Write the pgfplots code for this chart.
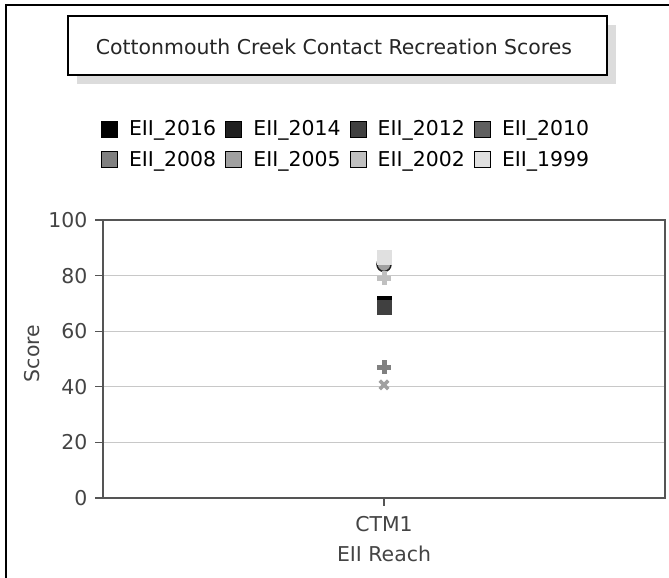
\documentclass[border=0pt]{standalone}
\usepackage{fontspec}
\setmainfont{DejaVu Sans}
\usepackage{pgfplots}
\pgfplotsset{compat=1.18}
\definecolor{c2016}{HTML}{000000}
\definecolor{c2014}{HTML}{202020}
\definecolor{c2012}{HTML}{404040}
\definecolor{c2010}{HTML}{606060}
\definecolor{c2008}{HTML}{808080}
\definecolor{c2005}{HTML}{A0A0A0}
\definecolor{c2002}{HTML}{C0C0C0}
\definecolor{c1999}{HTML}{E0E0E0}
\definecolor{txtgray}{HTML}{444444}
\definecolor{framegray}{HTML}{555555}
\definecolor{gridgray}{HTML}{C8C8C8}
\definecolor{shadow}{HTML}{DCDCDC}
\newcommand{\chartfont}{\fontsize{20.5}{24}\selectfont}
\pgfplotsset{
  legsq/.style={legend image code/.code={\draw[fill=#1, draw=black, line width=1.2bp] (0bp,-8bp) rectangle (16bp,8bp);}}
}
\begin{document}
\begin{tikzpicture}[x=1bp,y=1bp]
\useasboundingbox (0,0) rectangle (669,578);
\fill[white] (0,0) rectangle (669,578);
\draw[black, line width=1.5bp] (6,0) -- (6,573) -- (669,573);
\fill[shadow] (77,494) rectangle (616,553);
\draw[fill=white, line width=1.5bp] (68,503) rectangle (607,562);
\node[font=\chartfont, text=black!85] at (334,531) {Cottonmouth Creek Contact Recreation Scores};
\begin{axis}[
  at={(103bp,80bp)}, anchor=south west,
  scale only axis, width=562bp, height=278bp,
  xmin=-1, xmax=1, ymin=0, ymax=100,
  xtick={0}, xticklabels={CTM1},
  ytick={0,20,40,60,80,100},
  ymajorgrids, grid style={gridgray, line width=1.2bp},
  axis line style={framegray, line width=1.5bp},
  tick style={framegray, line width=1.2bp},
  tick align=outside, tick pos=left, major tick length=8bp,
  /pgf/number format/assume math mode=true,
  tick label style={font=\chartfont, text=txtgray},
  yticklabel style={xshift=-4bp},
  xticklabel style={yshift=-7bp},
  label style={font=\chartfont, text=txtgray},
  ylabel={Score}, xlabel={EII Reach},
  ylabel style={at={(axis description cs:-0.126,0.52)}, anchor=center},
  xlabel style={at={(axis description cs:0.5,-0.2014)}, anchor=center},
  legend columns=4,
  legend style={draw=none, fill=none, font=\chartfont, text=black,
    at={(axis description cs:0.4324,1.2716)}, anchor=center,
    /tikz/every even column/.append style={column sep=7bp},
    /tikz/every odd column/.append style={column sep=9bp},
    row sep=10bp},
  clip=false,
]
\addplot[only marks, mark=square*, mark size=7bp, color=c2016, legsq=c2016] coordinates {(0,70.2)};
\addlegendentry{EII\_2016}
\addplot[only marks, mark=*, mark size=7bp, color=c2014, mark options={fill=c2010!60!white, draw=c2014, line width=1.5bp}, legsq=c2014] coordinates {(0,84)};
\addlegendentry{EII\_2014}
\addplot[only marks, mark=square*, mark size=7bp, color=c2012, legsq=c2012] coordinates {(0,68.5)};
\addlegendentry{EII\_2012}
\addplot[only marks, mark=square*, mark size=7bp, color=c2010, legsq=c2010] coordinates {(0,86.5)};
\addlegendentry{EII\_2010}
\addplot[only marks, mark=+, mark size=7bp, color=c2008, mark options={line width=5bp}, legsq=c2008] coordinates {(0,47)};
\addlegendentry{EII\_2008}
\addplot[only marks, mark=x, mark size=6bp, color=c2005, mark options={line width=3.5bp}, legsq=c2005] coordinates {(0,40.7)};
\addlegendentry{EII\_2005}
\addplot[only marks, mark=+, mark size=7bp, color=c2002, mark options={line width=5bp}, legsq=c2002] coordinates {(0,79)};
\addlegendentry{EII\_2002}
\addplot[only marks, mark=square*, mark size=7bp, color=c1999, legsq=c1999] coordinates {(0,86.7)};
\addlegendentry{EII\_1999}
\end{axis}
\end{tikzpicture}
\end{document}
